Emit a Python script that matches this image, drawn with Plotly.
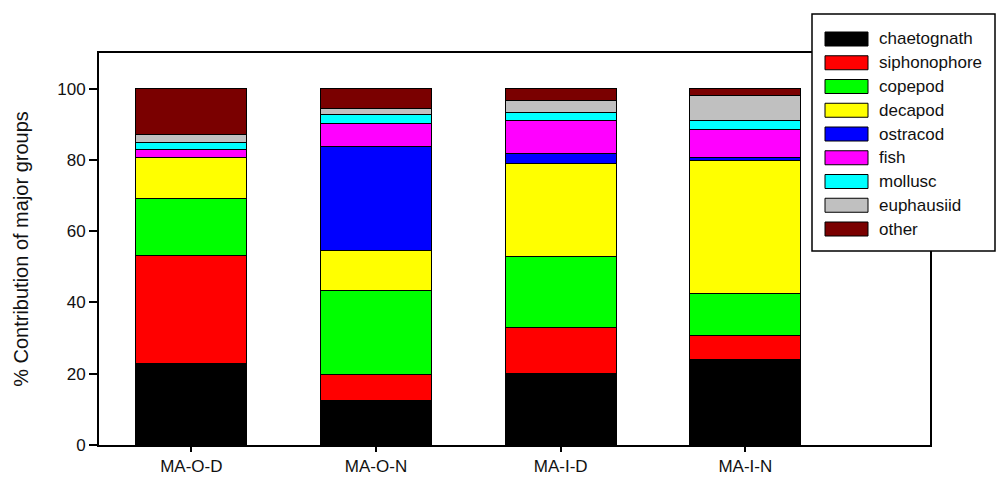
import plotly.graph_objects as go

categories = ["MA-O-D", "MA-O-N", "MA-I-D", "MA-I-N"]
groups = ["chaetognath", "siphonophore", "copepod", "decapod", "ostracod",
          "fish", "mollusc", "euphausiid", "other"]
colors = ["#000000", "#ff0000", "#00ff00", "#ffff00", "#0000ff",
          "#ff00ff", "#00ffff", "#c0c0c0", "#7a0000"]

chaetognath = [22.9, 12.6, 20.1, 24.1]
siphonophore = [30.3, 7.1, 12.8, 6.5]
copepod = [16.1, 23.6, 20.0, 11.8]
decapod = [11.3, 11.3, 26.0, 37.3]
ostracod = [0.0, 29.2, 3.0, 0.9]
fish = [2.3, 6.4, 9.1, 7.9]
mollusc = [2.1, 2.6, 2.3, 2.7]
euphausiid = [2.0, 1.6, 3.3, 6.8]
other = [13.0, 5.6, 3.4, 2.0]

series = [chaetognath, siphonophore, copepod, decapod, ostracod,
          fish, mollusc, euphausiid, other]

yticks = [0, 20, 40, 60, 80, 100]

FONT = "Liberation Sans, Arial, sans-serif"
TXT = "#111111"

fig = go.Figure()
for name, vals, col in zip(groups, series, colors):
    fig.add_trace(go.Bar(
        x=categories, y=vals, name=name,
        marker=dict(color=col, line=dict(color="#000000", width=1)),
        width=0.6, showlegend=False,
    ))

# plot area in pixels
L, R, T, B = 99, 930, 53, 445
W, H = 996, 477


def px(x):
    return (x - L) / (R - L)


def py(y):
    return (B - y) / (B - T)


shapes = []
annotations = []
# legend box
shapes.append(dict(type="rect", xref="paper", yref="paper",
                   x0=px(812), x1=px(995), y0=py(251), y1=py(14),
                   fillcolor="white", line=dict(color="black", width=1.5),
                   layer="above"))
for i, (name, col) in enumerate(zip(groups, colors)):
    cy = 39 + i * 23.75
    shapes.append(dict(type="rect", xref="paper", yref="paper",
                       x0=px(825), x1=px(868), y0=py(cy + 7), y1=py(cy - 7),
                       fillcolor=col, line=dict(color="black", width=1),
                       layer="above"))
    annotations.append(dict(text=name, xref="paper", yref="paper",
                            x=px(877), y=py(cy), xanchor="left", yanchor="middle",
                            showarrow=False,
                            font=dict(family=FONT, size=17, color=TXT)))

fig.update_layout(
    barmode="stack",
    width=W, height=H,
    margin=dict(l=L, r=W - R, t=T, b=H - B, autoexpand=False),
    paper_bgcolor="white", plot_bgcolor="white",
    font=dict(family=FONT, size=17, color=TXT),
    shapes=shapes, annotations=annotations,
    xaxis=dict(range=[-0.5, 4.0], showline=True, linecolor="black", linewidth=2,
               mirror=True, ticks="outside", ticklen=5, tickwidth=1.5,
               tickcolor="black", showgrid=False, zeroline=False,
               tickfont=dict(size=17, color=TXT)),
    yaxis=dict(range=[0, 110], showline=True, linecolor="black", linewidth=2,
               mirror=True, ticks="outside", ticklen=8, tickwidth=1.5,
               tickcolor="black", showgrid=False, zeroline=False,
               tickvals=yticks, ticktext=[str(v) for v in yticks],
               tickfont=dict(size=17, color=TXT),
               title=dict(text="% Contribution of major groups",
                          font=dict(size=20, color=TXT), standoff=23)),
)

fig.write_html("out.html",
               config={"displayModeBar": False},
               post_script="document.body.style.margin='0';document.body.style.overflow='hidden';")
